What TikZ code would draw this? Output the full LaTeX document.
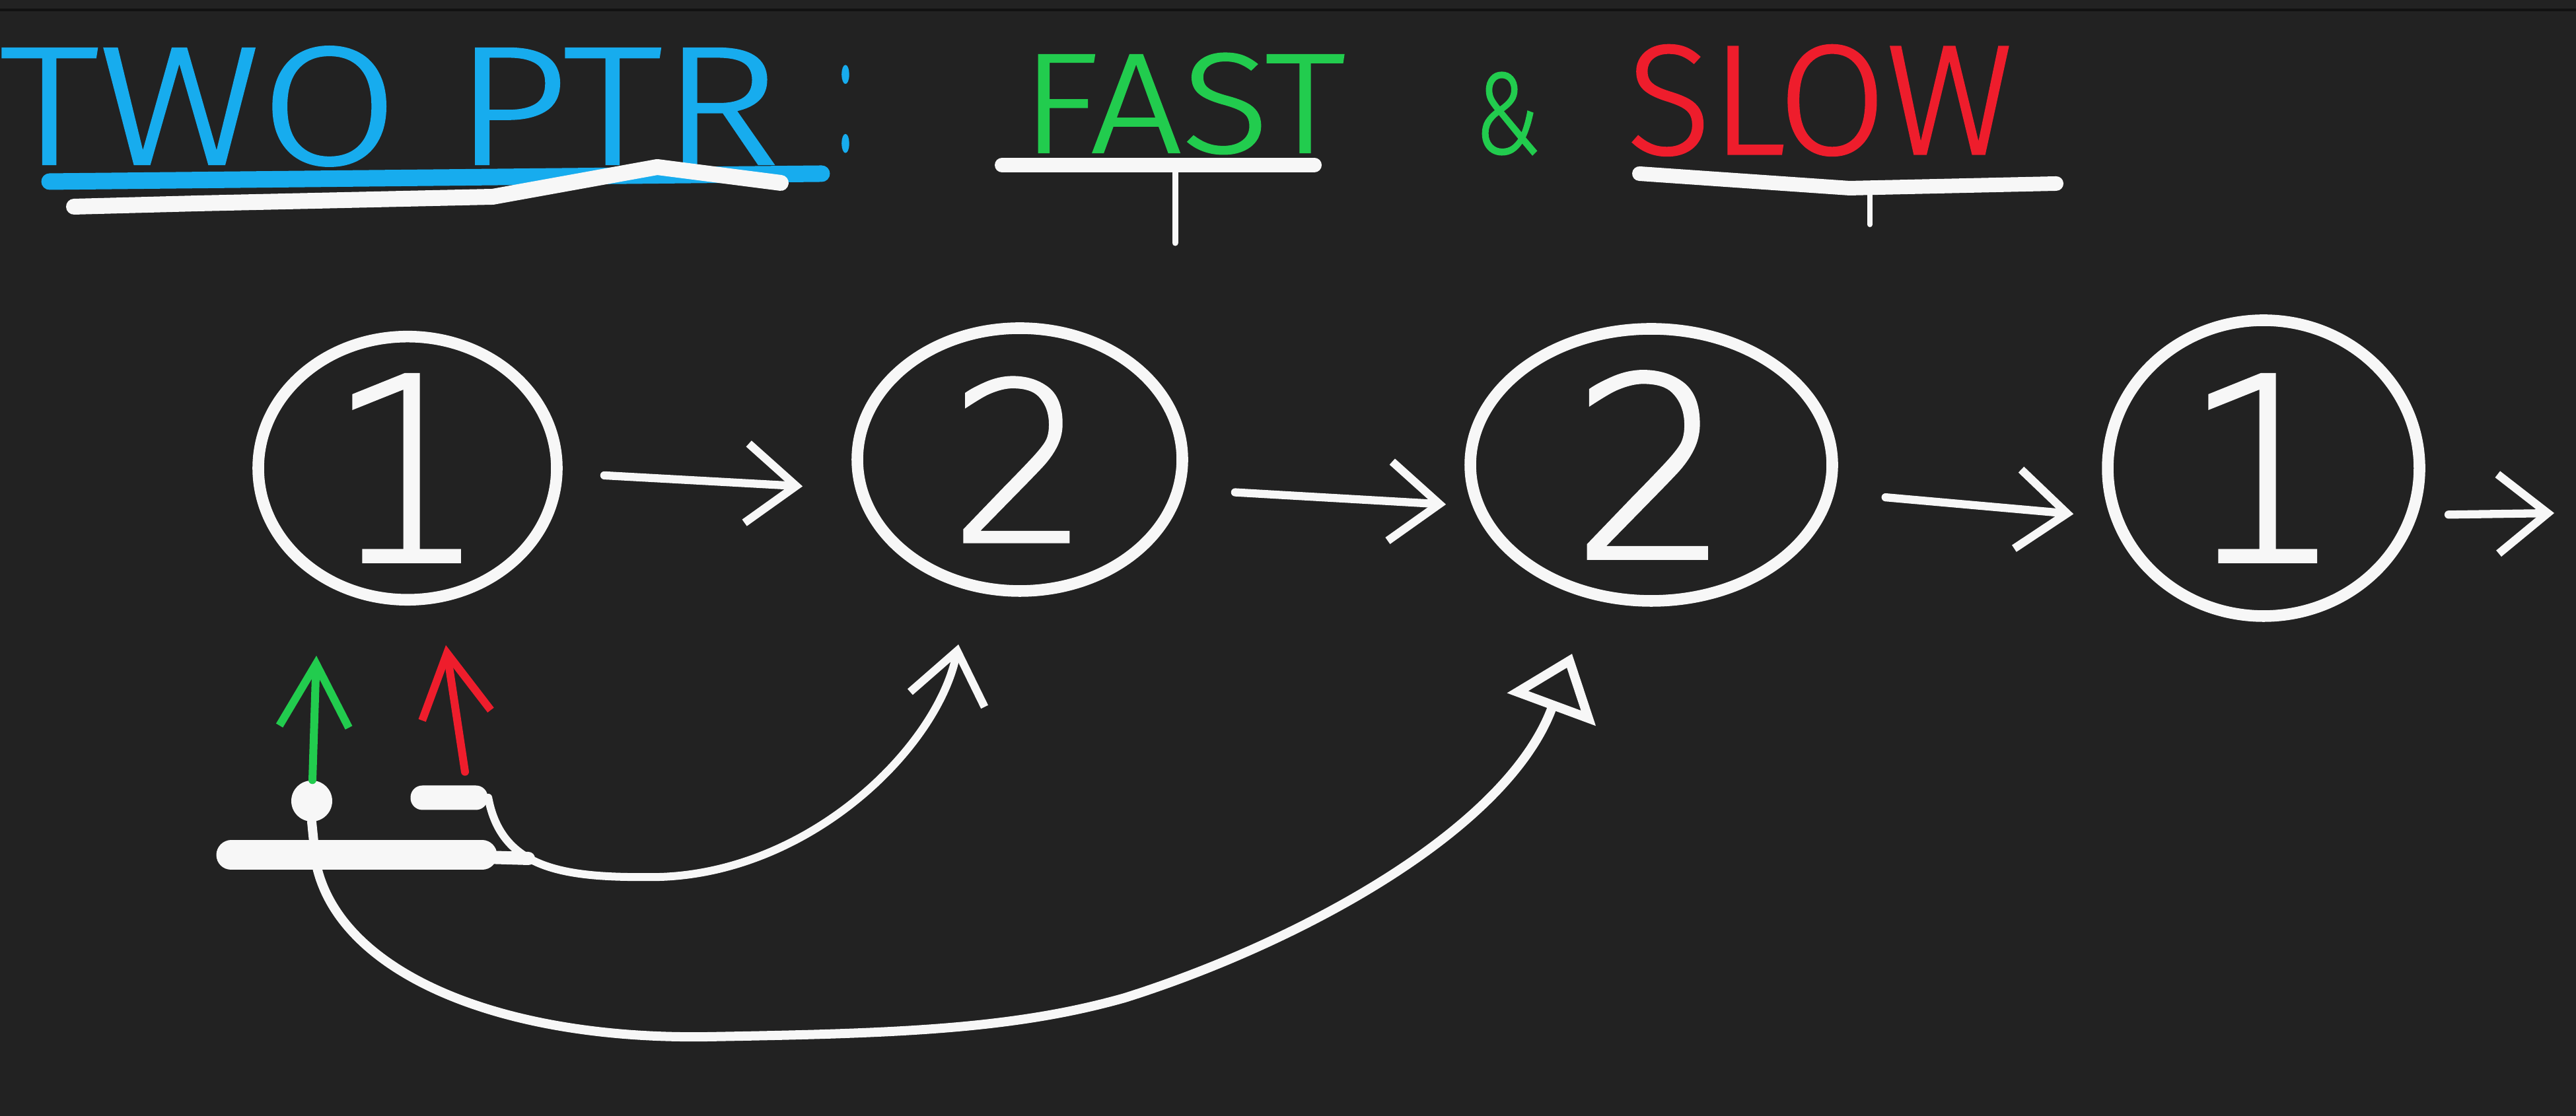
\documentclass[tikz,border=0pt]{standalone}
\usepackage{fontspec}
\usepackage{graphicx}
\usetikzlibrary{arrows.meta,shapes.geometric,positioning}
\IfFontExistsTF{Fira Sans Light}
  {\newfontfamily\handfont{Fira Sans Light}[FakeBold=1.2]}
  {\newfontfamily\handfont{Fira Sans}}
\IfFontExistsTF{DejaVu Sans ExtraLight}
  {\newfontfamily\digitfont{DejaVu Sans ExtraLight}[FakeBold=1.6]}
  {\IfFontExistsTF{Fira Sans ExtraLight}
    {\newfontfamily\digitfont{Fira Sans ExtraLight}}
    {\newfontfamily\digitfont{Fira Sans}}}
\definecolor{board}{HTML}{222222}
\definecolor{rim}{HTML}{121212}
\definecolor{ptrblue}{HTML}{17ACEE}
\definecolor{fastgreen}{HTML}{22CC4E}
\definecolor{slowred}{HTML}{EE1D2C}
\definecolor{chalk}{HTML}{F7F7F7}
\tikzset{
  headline/.style={inner sep=0pt, font=\handfont},
  listnode/.style={ellipse, draw=chalk, line width=5pt, inner sep=0pt, outer sep=0pt,
    text=chalk, font=\digitfont},
  link/.style={draw=chalk, line width=3.5pt, line cap=round,
    -{Straight Barb[length=0.75cm,width=1.2cm]}},
  ptrarrow/.style={line width=0.12cm, line cap=round,
    -{Straight Barb[length=0.95cm,width=1.05cm]}},
  chalkline/.style={draw=chalk, line cap=round, line join=round},
}

\begin{document}
\begin{tikzpicture}
  \useasboundingbox (0,0) rectangle (39,16.9);
  \fill[board] (0,0) rectangle (39,16.9);
  \draw[rim, line width=0.04cm] (0,16.75) -- (39,16.75);
  % title
  \node[headline, text=ptrblue] (twoptr) at (5.90,15.29) {\resizebox{11.8cm}{1.78cm}{TWO PTR}};
  \node[headline, text=ptrblue] (colon) at (12.80,15.25) {\resizebox{0.22cm}{1.27cm}{:}};
  \node[headline, text=fastgreen] (fast) at (17.91,15.33) {\resizebox{4.9cm}{1.5cm}{FAST}};
  \node[headline, text=fastgreen] (amp) at (22.82,15.18) {\resizebox{1.0cm}{1.23cm}{\&}};
  \node[headline, text=slowred] (slow) at (27.55,15.38) {\resizebox{5.84cm}{1.65cm}{SLOW}};
  % underlines
  \draw[chalkline, draw=ptrblue, line width=0.25cm] (0.75,14.15) -- (12.44,14.27);
  \draw[chalkline, line width=0.24cm] (1.12,13.77) -- (3.0,13.82) -- (7.46,13.92)
    -- (9.95,14.37) -- (11.82,14.13);
  \draw[chalkline, line width=0.22cm] (15.17,14.40) -- (19.90,14.40);
  \draw[chalkline, line width=0.09cm] (17.79,14.40) -- (17.79,13.22);
  \draw[chalkline, line width=0.22cm] (24.82,14.27) -- (28.0,14.05) -- (31.13,14.12);
  \draw[chalkline, line width=0.08cm] (28.31,14.05) -- (28.31,13.50);
  % list
  \foreach \name/\x/\y/\w/\h/\s/\val in {n1/6.17/9.81/4.52/3.98/110/1, n2/15.44/9.94/4.92/3.98/95/2,
      n3/25.00/9.86/5.48/4.12/108/2, n4/34.27/9.81/4.72/4.48/110/1} {
    \node[listnode, minimum width=\w cm, minimum height=\h cm] (\name) at (\x,\y)
      {\fontsize{\s}{\s}\selectfont\val};
  }
  \coordinate (nullend) at (38.67,9.13);
  \draw[link, shorten <=0.72cm, shorten >=0.83cm] ([yshift=-0.07cm]n1.east) -- ([yshift=-0.45cm]n2.west);
  \draw[link, shorten <=0.80cm, shorten >=0.37cm] ([yshift=-0.45cm]n2.east) -- ([yshift=-0.62cm]n3.west);
  \draw[link, shorten <=0.81cm, shorten >=0.52cm] ([yshift=-0.42cm]n3.east) -- ([yshift=-0.74cm]n4.west);
  \draw[link, shorten <=0.44cm] ([yshift=-0.71cm]n4.east) -- (nullend);
  % pointers
  \draw[chalkline, line width=0.45cm] (3.50,3.95) -- (7.30,3.95);
  \draw[chalkline, line width=0.2cm] (7.0,3.93) -- (8.0,3.90);
  \node[circle, fill=chalk, minimum size=0.62cm, inner sep=0pt] (fastdot) at (4.72,4.77) {};
  \node[rectangle, rounded corners=0.18cm, fill=chalk, minimum width=1.17cm,
    minimum height=0.37cm, inner sep=0pt] (slowdot) at (6.80,4.82) {};
  \coordinate (fasttip) at (4.79,6.97);
  \coordinate (slowtip) at (6.75,7.13);
  \draw[ptrarrow, draw=fastgreen] (fastdot) -- (fasttip);
  \draw[ptrarrow, draw=slowred] ([xshift=2.4mm,yshift=2mm]slowdot.north) -- (slowtip);
  % moves
  \coordinate (slowto) at (14.51,7.14);
  \coordinate (fastto) at (23.80,7.00);
  \draw[chalkline, line width=0.12cm, -{Straight Barb[length=0.75cm,width=1.15cm]}]
    (slowdot.east) .. controls (7.6,3.7) and (8.6,3.6) .. (10.0,3.62)
    .. controls (12.3,3.7) and (14.2,5.6) .. (slowto);
  \draw[chalkline, line width=0.14cm, -{Triangle[open,length=0.9cm,width=1.4cm]}]
    (fastdot.south) -- (4.78,3.85) .. controls (5.1,2.2) and (7.5,1.15) .. (10.72,1.20)
    .. controls (13.5,1.25) and (15.3,1.3) .. (17.03,1.79)
    .. controls (19.6,2.6) and (22.8,4.3) .. (fastto);
\end{tikzpicture}
\end{document}
